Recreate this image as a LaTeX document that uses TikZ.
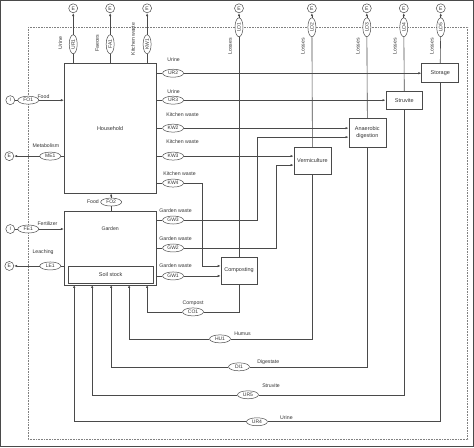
\documentclass[tikz,border=0pt]{standalone}
\usepackage{fontspec}
\setmainfont{Liberation Sans}
\usetikzlibrary{shapes.geometric,arrows.meta}
\definecolor{linec}{HTML}{4A4A4A}
\definecolor{textc}{HTML}{333333}
\begin{document}
\begin{tikzpicture}[x=1pt,y=-1pt]
\tikzset{every node/.style={text=textc}}
\tikzset{box/.style={draw=linec, line width=0.6pt, rectangle, inner sep=0pt, font=\fontsize{5.5}{6.5}\selectfont}}
\tikzset{flow/.style={draw=linec, line width=0.5pt, ellipse, minimum width=21pt, minimum height=8pt, inner sep=0pt, fill=white, font=\fontsize{5}{5.5}\selectfont}}
\tikzset{vflow/.style={flow, minimum width=19pt, rotate=90}}
\tikzset{ext/.style={draw=linec, line width=0.5pt, circle, minimum size=9pt, inner sep=0pt, font=\fontsize{5}{5.5}\selectfont}}
\tikzset{lbl/.style={inner sep=0pt, font=\fontsize{5.2}{6}\selectfont}}
\tikzset{arr/.style={-{Latex[length=3pt,width=2.4pt]}}}
\tikzset{every path/.style={draw=linec, line width=0.6pt}}
\useasboundingbox (0,0) rectangle (474,447);
% system boundary
\draw[densely dotted, line width=0.5pt, draw=gray] (28,27) rectangle (468,440);
% processes
\node[box, minimum width=92pt, minimum height=130pt] (hh) at (110,128) {Household};
\node[box, minimum width=92pt, minimum height=74pt] (gd) at (110,248) {};
\node[lbl] (gdl) at (110,229) {Garden};
\node[box, minimum width=85pt, minimum height=17pt] (soil) at (110.5,275) {Soil stock};
\node[box, minimum width=37pt, minimum height=19pt] (sto) at (440.5,72.5) {Storage};
\node[box, minimum width=37pt, minimum height=18pt] (sv) at (404.5,100) {Struvite};
\node[box, minimum width=37pt, minimum height=29pt, align=center] (ad) at (367.5,132.5) {Anaerobic\\digestion};
\node[box, minimum width=37pt, minimum height=27pt] (vc) at (312.5,160.5) {Vermiculture};
\node[box, minimum width=36pt, minimum height=27pt] (cp) at (239,270.5) {Composting};
% losses
\foreach \n/\x in {1/239,2/312,3/367,4/404,5/441} {
  \node[vflow] (lo\n) at (\x,27) {LO\n};
  \node[ext] (elo\n) at (\x,8) {E};
  \node[lbl, rotate=90] (los\n) at (\x-9,46) {Losses};
  \draw[arr] (lo\n) -- (elo\n);
}
\draw (cp.north) -- (lo1);
\draw (vc.north) -- (lo2);
\draw (ad.north) -- (lo3);
\draw (sv.north) -- (lo4);
\draw (sto.north) -- (lo5);
% household to export
\foreach \n/\t/\x/\lx in {ur1/UR1/73/60,fa1/FA1/110/97,kw1/KW1/147/133} {
  \node[vflow] (\n) at (\x,44) {\t};
  \node[ext] (e\n) at (\x,8) {E};
  \draw (hh.north -| \n) -- (\n);
  \draw[arr] (\n) -- (e\n);
}
\node[lbl, rotate=90] (ur1l) at (60,43) {Urine};
\node[lbl, rotate=90] (fa1l) at (97,43) {Faeces};
\node[lbl, rotate=90] (kw1l) at (133,39) {Kitchen waste};
% imports and emissions left
\node[ext] (ifo1) at (10,100) {I};
\node[flow] (fo1) at (28,100) {FO1};
\node[lbl, anchor=west] (fo1l) at (37,96) {Food};
\draw (ifo1) -- (fo1);
\draw[arr] (fo1) -- (fo1 -| hh.west);
\node[ext] (eme1) at (9,156) {E};
\node[flow] (me1) at (50,156) {ME1};
\node[lbl, anchor=west] (me1l) at (32,146) {Metabolism};
\draw (hh.west |- me1) -- (me1);
\draw[arr] (me1) -- (eme1);
\node[ext] (ife1) at (10,229) {I};
\node[flow] (fe1) at (28,229) {FE1};
\node[lbl, anchor=west] (fe1l) at (37,224) {Fertilizer};
\draw (ife1) -- (fe1);
\draw[arr] (fe1) -- (fe1 -| gd.west);
\node[ext] (ele1) at (9,266) {E};
\node[flow] (le1) at (50,266) {LE1};
\node[lbl, anchor=west] (le1l) at (32,252) {Leaching};
\draw (gd.west |- le1) -- (le1);
\draw[arr] (le1) -- (ele1);
% garden to household
\node[flow] (fo2) at (111,202) {FO2};
\node[lbl, anchor=east] (fo2l) at (99,202) {Food};
\draw (gd.north -| fo2) -- (fo2);
\draw[arr] (fo2) -- (hh.south -| fo2);
% household outputs
\node[flow] (ur2) at (173,73) {UR2};
\node[flow] (ur3) at (173,100) {UR3};
\node[flow] (kw2) at (173,128) {KW2};
\node[flow] (kw3) at (173,156) {KW3};
\node[flow] (kw4) at (173,183) {KW4};
\node[lbl, anchor=west] (ur2l) at (167,59) {Urine};
\node[lbl, anchor=west] (ur3l) at (167,91) {Urine};
\node[lbl, anchor=west] (kw2l) at (166,114) {Kitchen waste};
\node[lbl, anchor=west] (kw3l) at (166,142) {Kitchen waste};
\node[lbl, anchor=west] (kw4l) at (163,174) {Kitchen waste};
\foreach \n in {ur2,ur3,kw2,kw3,kw4} \draw (hh.east |- \n) -- (\n);
\draw[arr] (ur2) -- (ur2 -| sto.west);
\draw[arr] (ur3) -- (ur3 -| sv.west);
\draw[arr] (kw2) -- (kw2 -| ad.west);
\draw[arr] (kw3) -- (kw3 -| vc.west);
% garden outputs
\node[flow] (gw3) at (173,220) {GW3};
\node[flow] (gw2) at (173,248) {GW2};
\node[flow] (gw1) at (173,276) {GW1};
\node[lbl, anchor=west] (gw3l) at (159,211) {Garden waste};
\node[lbl, anchor=west] (gw2l) at (159,239) {Garden waste};
\node[lbl, anchor=west] (gw1l) at (159,266) {Garden waste};
\foreach \n in {gw3,gw2,gw1} \draw (gd.east |- \n) -- (\n);
\coordinate (j1) at (257,137);
\coordinate (j2) at (276,165);
\coordinate (j3) at (202,266);
\draw[arr] (gw3) -| (j1) -- (j1 -| ad.west);
\draw[arr] (gw2) -| (j2) -- (j2 -| vc.west);
\draw[arr] (kw4) -| (j3) -- (j3 -| cp.west);
\draw[arr] (gw1) -- (gw1 -| cp.west);
% returns to soil stock
\coordinate (in1) at (147,285);
\coordinate (in2) at (129,285);
\coordinate (in3) at (111,285);
\coordinate (in4) at (92,285);
\coordinate (in5) at (74,285);
\node[flow] (co1) at (193,312) {CO1};
\node[flow] (hu1) at (220,339) {HU1};
\node[flow] (di1) at (239,367) {DI1};
\node[flow] (ur5) at (248,395) {UR5};
\node[flow] (ur4) at (257,422) {UR4};
\node[lbl] (co1l) at (193,303) {Compost};
\node[lbl, anchor=west] (hu1l) at (234,334) {Humus};
\node[lbl, anchor=west] (di1l) at (257,362) {Digestate};
\node[lbl, anchor=west] (ur5l) at (262,386) {Struvite};
\node[lbl, anchor=west] (ur4l) at (280,418) {Urine};
\draw (cp.south) |- (co1);
\draw[arr] (co1) -| (in1);
\draw (vc.south) |- (hu1);
\draw[arr] (hu1) -| (in2);
\draw (ad.south) |- (di1);
\draw[arr] (di1) -| (in3);
\draw (sv.south) |- (ur5);
\draw[arr] (ur5) -| (in4);
\draw (sto.south) |- (ur4);
\draw[arr] (ur4) -| (in5);
\end{tikzpicture}
\end{document}
